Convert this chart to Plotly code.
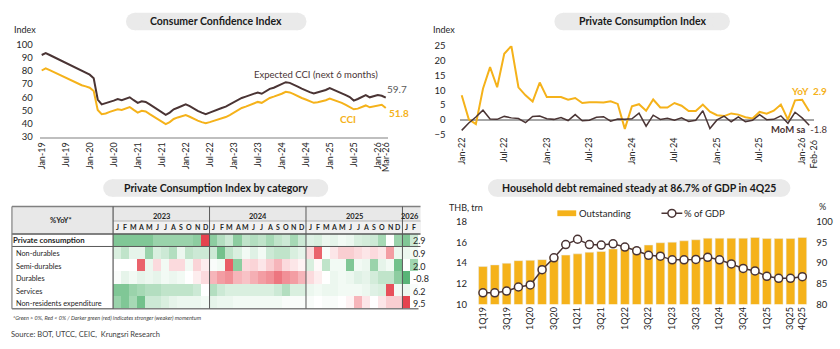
import pandas as pd
import plotly.graph_objects as go

W, H = 840, 349
FONT = "Lato"
YEL = "#F5B21A"
DRK = "#4A3434"
TXT = "#262626"
PILL = "#EAEAEA"


def fx(p):
    return p / W


def fy(p):
    return 1 - p / H


# ---------- Consumer Confidence Index (monthly, Jan-19 .. Mar-26) ----------
cci_months = pd.date_range("2019-01-01", "2026-03-01", freq="MS").strftime("%b-%y").tolist()
cci = [
    80.4, 82.1, 80.7, 79.2, 77.8, 76.3, 74.8, 73.3, 71.9, 70.4, 69.2, 68.3,
    67.3, 64.8, 50.4, 47.2, 47.7, 48.9, 50.1, 50.9, 50.4, 51.4, 52.6, 50.4,
    48.4, 49.7, 49.2, 47.2, 45.2, 43.5, 41.1, 39.6, 41.1, 43.5, 44.7, 45.5,
    46.5, 45.2, 43.5, 42.3, 41.1, 40.3, 41.1, 42.0, 43.0, 44.0, 45.0, 46.5,
    48.4, 50.4, 51.9, 52.9, 54.1, 55.3, 56.5, 55.8, 57.5, 59.5, 60.5, 61.4,
    62.7, 64.2, 63.7, 62.4, 60.7, 59.5, 58.3, 57.0, 55.8, 56.3, 57.0, 57.8,
    59.0, 58.0, 56.8, 55.8, 54.3, 52.9, 50.9, 51.4, 52.6, 53.8, 52.4, 53.1,
    53.8, 54.3, 51.8,
]
cci_expected = [
    92.2, 93.6, 92.2, 90.7, 89.2, 87.8, 86.3, 84.8, 83.3, 81.9, 80.4, 79.0,
    77.2, 74.5, 58.3, 54.6, 55.8, 56.5, 57.5, 58.7, 57.8, 58.7, 60.0, 57.8,
    55.8, 57.0, 56.5, 54.6, 52.6, 50.9, 48.4, 46.7, 48.4, 50.9, 52.1, 53.3,
    54.6, 53.3, 51.4, 49.7, 48.4, 47.2, 48.4, 49.7, 50.9, 51.9, 52.9, 54.6,
    56.5, 58.3, 59.5, 60.5, 61.4, 62.4, 63.7, 62.7, 64.4, 66.4, 67.3, 68.6,
    70.0, 71.5, 71.0, 69.8, 68.1, 66.6, 65.1, 63.9, 62.9, 63.7, 64.6, 65.6,
    67.1, 65.9, 64.4, 63.2, 61.7, 60.2, 57.5, 58.7, 60.2, 61.7, 60.0, 61.0,
    61.7, 61.2, 59.7,
]
cci_ticks = [m for m in cci_months if m[:3] in ("Jan", "Jul")] + ["Mar-26"]

# ---------- Private Consumption Index (Jan-22 .. Feb-26) ----------
pci_months = pd.date_range("2022-01-01", "2026-02-01", freq="MS").strftime("%b-%y").tolist()
pci_yoy = [
    8.3, 0.2, -1.4, 10.5, 17.8, 11.0, 22.3, 24.9, 11.0, 8.3, 6.2, 12.6,
    7.7, 7.7, 7.7, 6.8, 7.4, 5.7, 6.0, 6.0, 5.9, 6.3, 5.4, -3.0,
    4.6, 5.3, 3.1, 6.9, 4.2, 4.2, 5.7, 4.8, 3.0, 3.0, 5.2, 2.8,
    1.6, 1.3, 2.2, 1.8, 0.9, 0.5, 2.7, 2.1, 3.1, 5.2, 0.1, 6.6,
    6.8, 2.9,
]
pci_mom_sa = [
    -3.5, -1.0, 1.0, 3.3, 0.3, 0.2, 1.2, 0.7, 0.5, -0.9, 1.2, 1.3,
    0.4, 0.2, 0.8, -0.2, 1.8, -0.3, -0.1, 0.9, 1.1, -0.4, 0.3, 0.2,
    0.4, 2.3, -2.1, 1.6, 0.2, 0.6, -0.1, 0.7, -0.5, -0.1, 3.1, -2.9,
    0.0, 1.3, -0.6, 1.0, -0.6, -0.1, 1.8, 0.1, 0.2, 1.4, -1.1, 2.6,
    0.7, -1.8,
]
pci_ticks = [m for m in pci_months if m[:3] in ("Jan", "Jul")]
pci_last = pci_months[-1]

# ---------- PCI by category: momentum score (-3 weak .. +3 strong) ----------
heat_months = pd.date_range("2023-01-01", "2026-02-01", freq="MS")
heat_labels = heat_months.strftime("%b-%y").tolist()
heat_categories = ["Private consumption", "Non-durables", "Semi-durables",
                   "Durables", "Services", "Non-residents expenditure"]
momentum_private = [2.0, 2.0, 2.0, 2.0, 2.0, 1.6, 1.6, 1.6, 1.6, 1.6, 1.8, -3.0,
                    1.8, 1.2, 0.8, 1.8, 1.0, 1.2, 1.0, 1.4, 1.0, 0.8, 1.4, 0.8,
                    0.5, 0.6, 0.3, 0.4, 0.2, 0.3, 0.6, 0.7, 0.8, 1.4, 0.0, 1.6,
                    2.0, 0.8]
momentum_nondurables = [0.6, 1.0, 0.4, 0.4, 1.6, 0.6, 0.8, 1.2, 0.3, 1.0, 0.8, 0.8,
                        0.8, 2.2, 1.0, 0.6, 0.2, 0.5, 0.2, 0.8, 1.0, 1.0, 0.6, 0.4,
                        -0.6, -2.5, 0.1, -0.4, -0.8, -0.8, -0.6, -0.4, -0.6, -0.4, -1.6, 0.3,
                        0.3, 0.2]
momentum_semidurables = [0.0, 0.0, 0.0, -2.5, 0.3, -0.6, 0.2, -0.6, -0.6, 0.2, -0.7, -0.3,
                         0.1, 0.2, -2.6, 1.8, -0.6, -0.7, -0.4, -0.8, -1.2, -0.6, -0.4, -0.2,
                         0.6, -0.1, 1.0, 0.2, 0.2, 2.0, 0.2, 0.3, 1.6, 0.4, 0.2, 2.2,
                         0.0, 1.5]
momentum_durables = [0.1, 0.4, 0.2, 0.4, 0.3, 0.4, 0.2, 0.3, 0.2, 0.0, -0.3, -0.6,
                     -1.2, -1.6, -1.8, -1.2, -1.0, -1.3, -1.6, -1.8, -2.2, -1.8, -1.6, -1.2,
                     -0.6, -0.3, 0.0, 0.3, 0.2, 0.3, 0.5, 0.4, 0.7, 1.0, 1.0, 1.8,
                     2.6, 0.0]
momentum_services = [2.0, 2.0, 1.6, 1.4, 1.2, 1.2, 1.0, 1.0, 1.0, 1.0, 0.8, 0.0,
                     1.2, 0.8, 0.6, 0.6, 0.6, 0.6, 0.6, 0.6, 0.8, 1.2, 0.6, 0.6,
                     0.3, 0.2, 0.3, 0.3, 0.2, 0.2, 0.2, 0.3, 0.5, 0.6, -2.8, 0.2,
                     0.3, 0.1]
momentum_nonresidents = [1.6, 2.0, 1.4, 2.2, 0.8, 0.8, 0.6, 0.4, 0.3, 0.3, 0.3, 0.2,
                         0.4, 0.3, 0.3, 0.2, 0.2, 0.2, 0.2, 0.2, 0.2, 0.1, 0.1, 0.1,
                         0.1, 0.0, 0.1, 0.1, 0.0, -0.2, -1.2, -0.4, 0.0, -0.4, -0.8, -0.8,
                         -3.0, 0.0]
latest_yoy = [2.9, 0.9, 2.0, -0.8, 6.2, 9.5]

# ---------- Household debt ----------
quarters = [f"{q}Q{y}" for y in range(19, 26) for q in range(1, 5)]
debt_outstanding = [13.67, 13.83, 13.99, 14.24, 14.27, 14.34, 14.65, 14.78,
                    14.90, 15.06, 15.13, 15.38, 15.47, 15.54, 15.76, 15.98,
                    16.04, 16.17, 16.27, 16.42, 16.42, 16.42, 16.42, 16.49,
                    16.39, 16.39, 16.39, 16.49]
debt_pct_gdp = [82.8, 82.8, 83.2, 84.2, 84.7, 88.4, 91.3, 94.5,
                95.8, 94.5, 94.4, 94.7, 93.9, 93.0, 91.9, 91.7,
                90.8, 90.8, 90.9, 91.4, 90.8, 89.8, 88.7, 88.1,
                86.8, 86.3, 86.3, 86.7]
debt_ticks = quarters[::2] + ["4Q25"]

# ---------------------------------------------------------------------------
fig = go.Figure()

fig.add_trace(go.Scatter(x=cci_months, y=cci_expected, mode="lines",
                         line=dict(color=DRK, width=2), xaxis="x", yaxis="y"))
fig.add_trace(go.Scatter(x=cci_months, y=cci, mode="lines",
                         line=dict(color=YEL, width=2), xaxis="x", yaxis="y"))

fig.add_trace(go.Scatter(x=pci_months, y=pci_yoy, mode="lines",
                         line=dict(color=YEL, width=2), xaxis="x2", yaxis="y2"))
fig.add_trace(go.Scatter(x=pci_months, y=pci_mom_sa, mode="lines",
                         line=dict(color=DRK, width=1.5), xaxis="x2", yaxis="y2"))

heat_z = [momentum_private, momentum_nondurables, momentum_semidurables,
          momentum_durables, momentum_services, momentum_nonresidents]
fig.add_trace(go.Heatmap(
    z=heat_z, x=heat_labels, y=heat_categories, xaxis="x3", yaxis="y3",
    zmin=-3, zmax=3, showscale=False,
    colorscale=[[0, "#E5434E"], [0.25, "#F4A3A9"], [0.5, "#FFFFFF"],
                [0.75, "#A0D6B0"], [1, "#3FA862"]],
))

fig.add_trace(go.Bar(x=quarters, y=debt_outstanding, marker_color=YEL,
                     xaxis="x4", yaxis="y4"))
fig.add_trace(go.Scatter(x=quarters, y=debt_pct_gdp, mode="lines+markers",
                         line=dict(color=DRK, width=1.5),
                         marker=dict(symbol="circle", size=8, color="white",
                                     line=dict(color=DRK, width=1.5)),
                         xaxis="x4", yaxis="y5"))

tickfont = dict(family=FONT, size=9.5, color=TXT)
xtickfont = dict(family=FONT, size=9, color=TXT)

layout = dict(
    width=W, height=H, margin=dict(l=0, r=0, t=0, b=0),
    paper_bgcolor="white", plot_bgcolor="rgba(0,0,0,0)",
    showlegend=False, bargap=0.26, font=dict(family=FONT, color=TXT),
    xaxis=dict(domain=[fx(36), fx(387)], anchor="y", type="category",
               range=[-0.5, len(cci_months) - 0.5], tickmode="array",
               tickvals=cci_ticks, ticktext=cci_ticks, tickangle=-90,
               showline=True, linecolor="#BFBFBF", linewidth=2, ticks="",
               showgrid=False, tickfont=xtickfont),
    yaxis=dict(domain=[fy(135), fy(40)], anchor="x", range=[30, 100], dtick=10,
               showgrid=False, zeroline=False, ticks="", ticklabelstandoff=6,
               tickfont=tickfont),
    xaxis2=dict(domain=[fx(459.4), fx(817)], anchor="y2", type="category",
                range=[-0.3, len(pci_months) - 0.3], tickmode="array",
                tickvals=pci_ticks, ticktext=pci_ticks, tickangle=-90,
                showline=False, ticks="", showgrid=False, tickfont=xtickfont),
    yaxis2=dict(domain=[fy(133), fy(41)], anchor="x2", range=[-5, 25], dtick=5,
                showgrid=False, zeroline=True, zerolinecolor="#A6A6A6",
                zerolinewidth=1.5, ticks="", ticklabelstandoff=13,
                tickfont=tickfont),
    xaxis3=dict(domain=[fx(110), fx(418)], anchor="y3", type="category",
                range=[-0.5, len(heat_labels) - 0.5], visible=False),
    yaxis3=dict(domain=[fy(312.5), fy(235)], anchor="x3", type="category",
                range=[len(heat_categories) - 0.5, -0.5], visible=False),
    xaxis4=dict(domain=[fx(477), fx(811)], anchor="y4", type="category",
                range=[-0.5, len(quarters) - 0.5], tickmode="array",
                tickvals=debt_ticks, ticktext=debt_ticks, tickangle=-90,
                showline=False, ticks="", showgrid=False, tickfont=xtickfont),
    yaxis4=dict(domain=[fy(308), fy(223)], anchor="x4", range=[10, 18], dtick=2,
                showgrid=False, zeroline=False, ticks="", ticklabelstandoff=9,
                tickfont=tickfont),
    yaxis5=dict(overlaying="y4", anchor="x4", side="right", range=[80, 100],
                dtick=5, showgrid=False, zeroline=False, ticks="",
                ticklabelstandoff=7, tickfont=tickfont),
)
fig.update_layout(**layout)

shapes = []
annotations = []


def pill(x0, x1, y0, y1, title):
    r = (y1 - y0) / 2
    common = dict(xref="paper", yref="paper", fillcolor=PILL, line=dict(width=0), layer="below")
    shapes.append(dict(type="rect", x0=fx(x0 + r), x1=fx(x1 - r), y0=fy(y1), y1=fy(y0), **common))
    shapes.append(dict(type="circle", x0=fx(x0), x1=fx(x0 + 2 * r), y0=fy(y1), y1=fy(y0), **common))
    shapes.append(dict(type="circle", x0=fx(x1 - 2 * r), x1=fx(x1), y0=fy(y1), y1=fy(y0), **common))
    annotations.append(dict(text=f"<b>{title}</b>", x=fx((x0 + x1) / 2), y=fy((y0 + y1) / 2),
                            xref="paper", yref="paper", showarrow=False,
                            xanchor="center", yanchor="middle",
                            font=dict(family=FONT, size=10.5, color="#1A1A1A")))


def note(text, x, y, size=9.5, color=TXT, anchor="left", xref="paper"):
    annotations.append(dict(text=text, x=x if xref != "paper" else fx(x), y=fy(y),
                            xref=xref, yref="paper", showarrow=False,
                            xanchor=anchor, yanchor="middle",
                            font=dict(family=FONT, size=size, color=color)))


def hline(x0, x1, y, color, width, xref="paper"):
    shapes.append(dict(type="line", xref=xref, yref="paper",
                       x0=fx(x0) if xref == "paper" else x0,
                       x1=fx(x1) if xref == "paper" else x1,
                       y0=fy(y), y1=fy(y), line=dict(color=color, width=width)))


def vline(x, y0, y1, color, width, xref="paper"):
    shapes.append(dict(type="line", xref=xref, yref="paper",
                       x0=fx(x) if xref == "paper" else x, x1=fx(x) if xref == "paper" else x,
                       y0=fy(y0), y1=fy(y1), line=dict(color=color, width=width)))


# Panel titles
pill(123, 305, 7, 25, "Consumer Confidence Index")
pill(555, 732, 7, 25, "Private Consumption Index")
pill(100, 327, 179, 197, "Private Consumption Index by category")
pill(488, 793, 179, 197, "Household debt remained steady at 86.7% of GDP in 4Q25")

# Consumer confidence labels
note("Index", 8, 24, size=9)
note("Expected CCI (next 6 months)", 250, 71, size=9.5, color=DRK)
note("59.7", 396, 86, size=10, color="#595959", anchor="center")
note("<b>CCI</b>", 347, 117, size=10, color=YEL, anchor="center")
note(f"<b>{cci[-1]:.1f}</b>", 398, 110, size=10, color=YEL, anchor="center")

# Private consumption labels; the last month label sits slightly apart from Jan-26
note("Index", 431, 24, size=9)
note(f"<b>YoY  {pci_yoy[-1]:.1f}</b>", 812, 88, size=10, color=YEL, anchor="center")
note(f"<b>MoM sa</b>  {pci_mom_sa[-1]:.1f}", 802, 128, size=9.5, color=DRK, anchor="center")
annotations.append(dict(text=pci_last, x=pci_last, xref="x2", y=fy(153), yref="paper",
                        textangle=-90, xshift=4, showarrow=False,
                        xanchor="center", yanchor="middle", font=xtickfont))

# Heatmap table frame
shapes.append(dict(type="rect", xref="paper", yref="paper", x0=fx(8), x1=fx(420),
                   y0=fy(235), y1=fy(207), fillcolor="#E8E8E8", line=dict(width=0),
                   layer="below"))
shapes.append(dict(type="rect", xref="paper", yref="paper", x0=fx(110), x1=fx(420),
                   y0=fy(235), y1=fy(222), fillcolor="#F1F1F1", line=dict(width=0),
                   layer="below"))
hline(8, 420, 207, "#808080", 1.5)
hline(110, 420, 222, "#A6A6A6", 0.8)
hline(8, 420, 235.3, "#595959", 1.5)
hline(8, 420, 248.3, "#595959", 1)
hline(8, 418, 312.5, "#808080", 1.5)
vline(8, 207, 312.5, "#808080", 1.2)
vline(110, 207, 312.5, "#595959", 1.2)
for i, d in enumerate(heat_months):
    if d.month == 1 and i > 0:
        vline(i - 0.5, 207, 312.5, "#595959", 1, xref="x3")
    note(f"<b>{d.strftime('%b')[0]}</b>", i, 228.5, size=7, anchor="center", xref="x3")
for yr in sorted(set(heat_months.year)):
    idx = [i for i, d in enumerate(heat_months) if d.year == yr]
    note(f"<b>{yr}</b>", sum(idx) / len(idx), 217.5, size=7.5, anchor="center", xref="x3")

note("<b>%YoY*</b>", 57, 221.5, size=7.5, anchor="center")
row_y = [242, 255.5, 268.5, 281.5, 294.5, 307]
for k, (name, yy) in enumerate(zip(heat_categories, row_y)):
    if k == 0:
        note(f"<b>{name}</b>", 7, yy, size=7.8)
    else:
        note(name, 10, yy, size=7.3)
    annotations.append(dict(text=f"{latest_yoy[k]:.1f}", x=len(heat_labels) - 1,
                            y=fy(yy), xref="x3", yref="paper", xshift=-3,
                            showarrow=False, xanchor="left", yanchor="middle",
                            font=dict(family=FONT, size=9, color=TXT)))

note("<i>*Green &gt; 0%, Red &lt; 0% / Darker green (red) indicates stronger (weaker) momentum</i>",
     7, 322, size=5.5, color="#404040")
note("Source: BOT, UTCC, CEIC,  Krungsri Research", 5, 339, size=7.5, color="#404040")

# Household debt legend and axis captions
note("THB, trn", 447, 208, size=9)
note("%", 825, 207, size=9, anchor="center")
shapes.append(dict(type="rect", xref="paper", yref="paper", x0=fx(558), x1=fx(577),
                   y0=fy(217), y1=fy(211), fillcolor=YEL, line=dict(width=0)))
note("Outstanding", 578, 214, size=9.5)
hline(663, 684, 214, DRK, 1.5)
shapes.append(dict(type="circle", xref="paper", yref="paper", x0=fx(669.5), x1=fx(677.5),
                   y0=fy(218), y1=fy(210), fillcolor="white", line=dict(color=DRK, width=1.5)))
note("% of GDP", 684, 214, size=9.5)

fig.update_layout(shapes=shapes, annotations=annotations)
fig.write_html("out.html")
